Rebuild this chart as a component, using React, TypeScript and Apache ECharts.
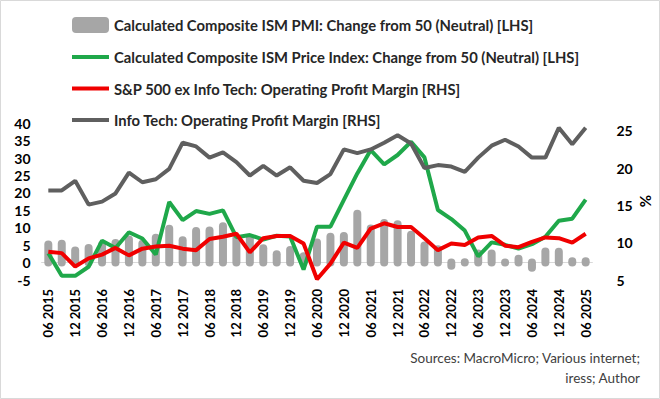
import React, { useEffect, useRef } from "react";
import * as echarts from "echarts";

const categories = [
  "06 2015", "09 2015", "12 2015", "03 2016", "06 2016", "09 2016", "12 2016", "03 2017",
  "06 2017", "09 2017", "12 2017", "03 2018", "06 2018", "09 2018", "12 2018", "03 2019",
  "06 2019", "09 2019", "12 2019", "03 2020", "06 2020", "09 2020", "12 2020", "03 2021",
  "06 2021", "09 2021", "12 2021", "03 2022", "06 2022", "09 2022", "12 2022", "03 2023",
  "06 2023", "09 2023", "12 2023", "03 2024", "06 2024", "09 2024", "12 2024", "03 2025",
  "06 2025",
];

// LHS: Calculated Composite ISM PMI, change from 50
const pmiChange = [
  5.2, 5.4, 3.5, 4.2, 5.1, 5.6, 6.6, 5.4, 7.1, 9.7,
  6.4, 9.1, 9.2, 10.4, 6.9, 7.0, 4.1, 2.4, 3.6, 1.8,
  5.8, 7.4, 7.6, 14.0, 9.8, 11.4, 11.0, 8.0, 4.9, 3.8,
  -0.9, 0.1, 2.6, 2.6, 0.05, 1.1, -1.5, 3.2, 3.1, 0.4,
  0.4,
];

// LHS: Calculated Composite ISM Price Index, change from 50
const priceChange = [
  2.7, -3.8, -3.8, -1.2, 6.3, 4.2, 8.7, 6.9, 2.3, 17.4,
  12.2, 14.8, 14.0, 15.0, 7.3, 7.9, 6.6, 7.7, 7.5, -2.0,
  10.3, 10.3, 18.0, 25.6, 32.3, 28.2, 30.9, 34.7, 30.2, 15.1,
  12.5, 9.2, 1.8, 5.8, 5.1, 4.0, 5.3, 7.4, 12.0, 12.6,
  18.1,
];

// RHS: S&P 500 ex Info Tech operating profit margin (%)
const spxExItMargin = [
  8.8, 8.6, 6.8, 7.9, 8.4, 9.3, 8.3, 9.2, 9.5, 9.6,
  9.2, 9.0, 10.5, 10.8, 11.2, 8.7, 10.6, 10.9, 10.9, 9.9,
  5.1, 7.2, 10.0, 9.3, 11.9, 12.6, 12.1, 12.1, 10.6, 9.0,
  9.9, 9.7, 10.7, 10.9, 9.6, 9.4, 10.1, 10.7, 10.6, 10.0,
  11.2,
];

// RHS: Info Tech operating profit margin (%)
const infoTechMargin = [
  17.0, 17.0, 18.3, 15.1, 15.5, 16.6, 19.4, 18.1, 18.5, 19.9,
  23.4, 22.9, 21.4, 22.1, 20.8, 19.0, 20.3, 19.0, 20.1, 18.3,
  18.0, 19.2, 22.5, 22.0, 22.5, 23.4, 24.4, 23.3, 20.0, 20.4,
  20.2, 19.5, 21.4, 23.0, 23.8, 22.9, 21.4, 21.4, 25.4, 23.2,
  25.4,
];

const seriesNames = [
  "Calculated Composite ISM PMI: Change from 50 (Neutral) [LHS]",
  "Calculated Composite ISM Price Index: Change from 50 (Neutral) [LHS]",
  "S&P 500 ex Info Tech: Operating Profit Margin [RHS]",
  "Info Tech: Operating Profit Margin [RHS]",
];

const leftTicks = { min: -5, max: 40, interval: 5 };
const rightTicks = { min: 5, max: 26, interval: 5 };

const FONT = "Lato";
const BAR_COLOR = "#a6a6a6";
const GREEN = "#1fa84a";
const RED = "#f00000";
const DARK = "#5f5f5f";

export default function App() {
  const ref = useRef<HTMLDivElement>(null);

  useEffect(() => {
    document.body.style.margin = "0";
    if (!ref.current) return;
    const chart = echarts.init(ref.current, null, { renderer: "svg" });

    const pillWidth = 8;
    const hiddenSymbol = { opacity: 0 };
    const option: any = {
      animation: false,
      textStyle: { fontFamily: FONT },
      grid: {
        left: 41.6,
        right: 67.6,
        top: 123.3,
        bottom: 119,
        containLabel: false,
        outerBoundsMode: "none",
      },
      legend: {
        orient: "vertical",
        left: 65,
        top: 12,
        itemWidth: 37,
        itemHeight: 16,
        itemGap: 16.5,
        selectedMode: false,
        textStyle: { fontFamily: FONT, fontSize: 14.8, fontWeight: "bold", color: "#262626" },
        data: [
          { name: seriesNames[0], icon: "roundRect", itemStyle: { color: BAR_COLOR } },
          { name: seriesNames[1], itemStyle: hiddenSymbol, lineStyle: { width: 4, color: GREEN } },
          { name: seriesNames[2], itemStyle: hiddenSymbol, lineStyle: { width: 4, color: RED } },
          { name: seriesNames[3], itemStyle: hiddenSymbol, lineStyle: { width: 4, color: DARK } },
        ],
      },
      xAxis: {
        type: "category",
        data: categories,
        boundaryGap: true,
        axisLine: { lineStyle: { color: "#d9d9d9", width: 1 } },
        axisTick: { show: false },
        splitLine: { show: false },
        axisLabel: {
          rotate: 90,
          interval: 1,
          fontFamily: FONT,
          fontSize: 13,
          fontWeight: "bold",
          color: "#000",
          margin: 9,
        },
      },
      yAxis: [
        {
          type: "value",
          min: leftTicks.min,
          max: leftTicks.max,
          interval: leftTicks.interval,
          splitLine: { show: false },
          axisLine: { show: false },
          axisTick: { show: false },
          axisLabel: { fontFamily: FONT, fontSize: 14, fontWeight: "bold", color: "#000", margin: 11 },
        },
        {
          type: "value",
          position: "right",
          min: rightTicks.min,
          max: rightTicks.max,
          interval: rightTicks.interval,
          splitLine: { show: false },
          axisLine: { show: false },
          axisTick: { show: false },
          axisLabel: {
            fontFamily: FONT,
            fontSize: 14,
            fontWeight: "bold",
            color: "#000",
            margin: 24,
            formatter: (v: number) => (v % 5 === 0 ? String(v) : ""),
          },
        },
      ],
      series: [
        {
          name: seriesNames[0],
          type: "custom",
          yAxisIndex: 0,
          itemStyle: { color: BAR_COLOR },
          encode: { x: 0, y: 1 },
          data: pmiChange.map((v, i) => [i, v]),
          z: 1,
          renderItem: (params: any, api: any) => {
            const i = api.value(0);
            const v = api.value(1);
            const top = api.coord([i, v]);
            const base = api.coord([i, 0]);
            const r = pillWidth / 2;
            const y1 = Math.min(top[1], base[1]) - r;
            const y2 = Math.max(top[1], base[1]) + r;
            return {
              type: "rect",
              shape: { x: top[0] - pillWidth / 2, y: y1, width: pillWidth, height: y2 - y1, r },
              style: { fill: BAR_COLOR },
            };
          },
        },
        {
          name: seriesNames[1],
          type: "line",
          yAxisIndex: 0,
          data: priceChange,
          symbol: "none",
          lineStyle: { color: GREEN, width: 4 },
          itemStyle: { color: GREEN },
          z: 2,
        },
        {
          name: seriesNames[2],
          type: "line",
          yAxisIndex: 1,
          data: spxExItMargin,
          symbol: "none",
          lineStyle: { color: RED, width: 4 },
          itemStyle: { color: RED },
          z: 3,
        },
        {
          name: seriesNames[3],
          type: "line",
          yAxisIndex: 1,
          data: infoTechMargin,
          symbol: "none",
          lineStyle: { color: DARK, width: 4 },
          itemStyle: { color: DARK },
          z: 4,
        },
      ],
      graphic: [
        {
          type: "rect",
          silent: true,
          z: -10,
          shape: { x: 0.5, y: 0.5, width: 659, height: 398 },
          style: { fill: "none", stroke: "#d9d9d9", lineWidth: 1 },
        },
        {
          type: "text",
          x: 645,
          y: 201,
          rotation: Math.PI / 2,
          style: {
            text: "%",
            font: `bold 15px ${FONT}`,
            fill: "#000",
            textAlign: "center",
            textVerticalAlign: "middle",
          },
        },
        {
          type: "text",
          right: 20,
          top: 351,
          style: {
            text: "Sources: MacroMicro; Various internet;",
            font: `13.5px ${FONT}`,
            fill: "#404040",
            textAlign: "right",
          },
        },
        {
          type: "text",
          right: 20,
          top: 371,
          style: {
            text: "iress; Author",
            font: `13.5px ${FONT}`,
            fill: "#404040",
            textAlign: "right",
          },
        },
      ],
    };

    chart.setOption(option);
    return () => chart.dispose();
  }, []);

  return <div ref={ref} style={{ width: 660, height: 399 }} />;
}
